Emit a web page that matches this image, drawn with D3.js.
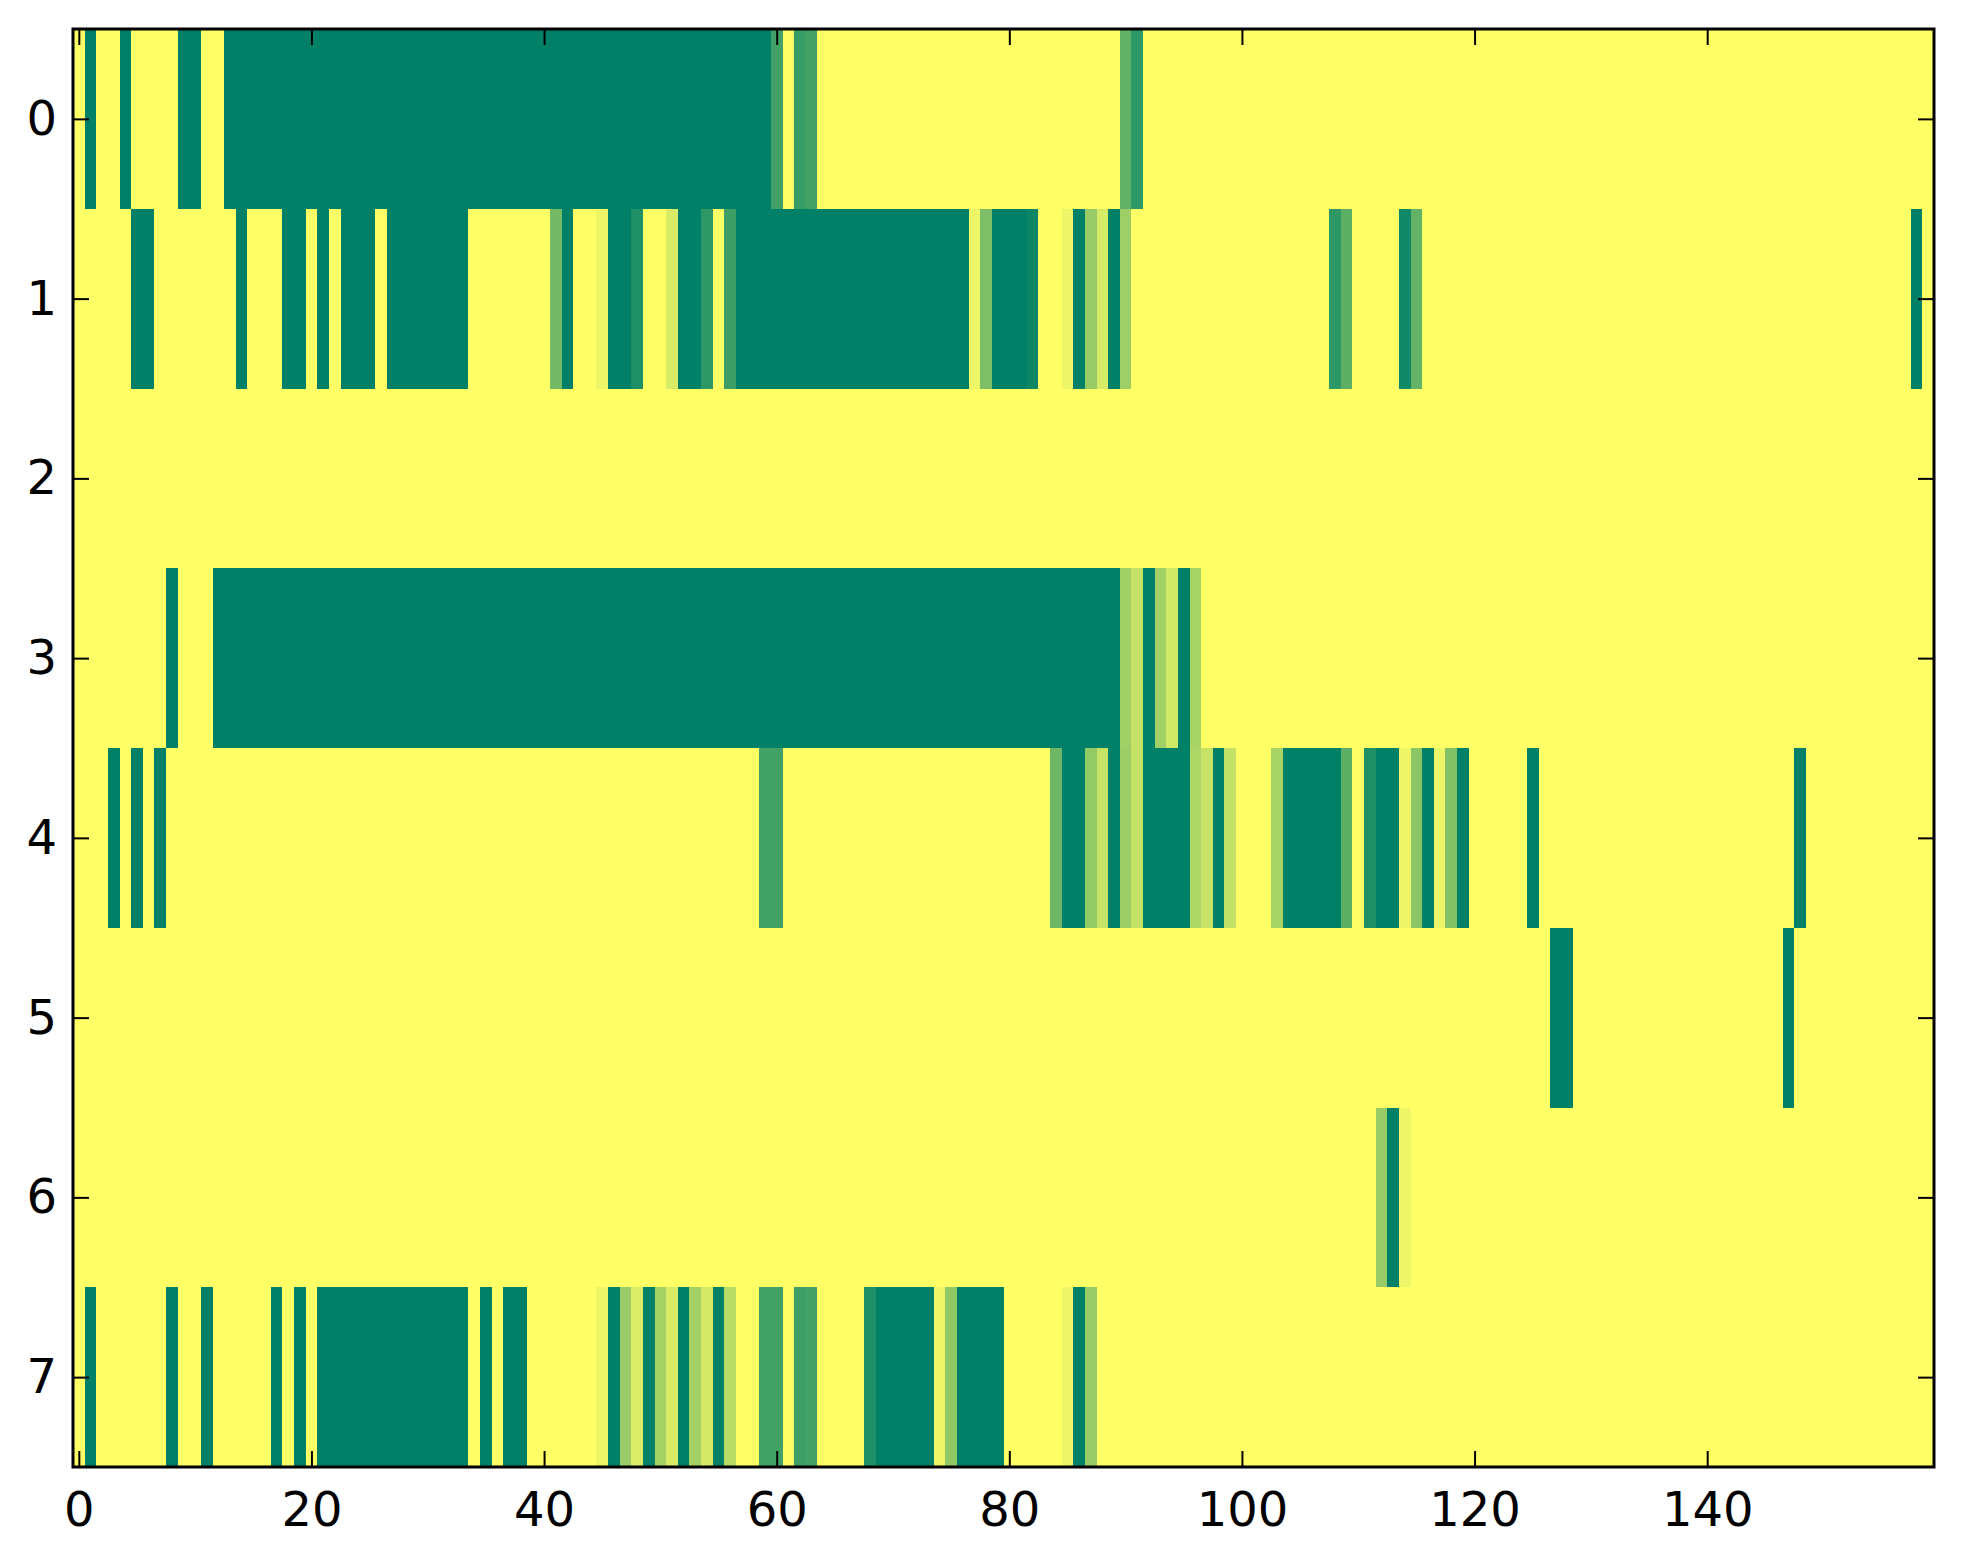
<!DOCTYPE html>
<html lang="en">
<head>
  <meta charset="UTF-8" />
  <title>Heatmap - summer</title>
  <style>
    body {
      margin: 0;
      background-color: #fff;
    }

    svg {
      display: block;
    }

    .axis text {
      font-family: "DejaVu Sans", sans-serif;
      font-size: 48px;
      fill: #000;
    }

    .axis line {
      stroke: #000;
      stroke-width: 2px;
    }
  </style>
</head>
<body>
  <svg></svg>

  <script src="https://cdnjs.cloudflare.com/ajax/libs/d3/7.8.5/d3.min.js"></script>
  <script>
    // one array per row, 160 columns each (0 = green, 1 = yellow)
    const row0 = [
      1,0,1,1,0,1,1,1,1,0, 0,1,1,0,0,0,0,0,0,0,
      0,0,0,0,0,0,0,0,0,0, 0,0,0,0,0,0,0,0,0,0,
      0,0,0,0,0,0,0,0,0,0, 0,0,0,0,0,0,0,0,0,0,
      0.26,1,0.22,0.27,1,1,1,1,1,1, 1,1,1,1,1,1,1,1,1,1,
      1,1,1,1,1,1,1,1,1,1, 0.38,0.18,1,1,1,1,1,1,1,1,
      1,1,1,1,1,1,1,1,1,1, 1,1,1,1,1,1,1,1,1,1,
      1,1,1,1,1,1,1,1,1,1, 1,1,1,1,1,1,1,1,1,1,
      1,1,1,1,1,1,1,1,1,1, 1,1,1,1,1,1,1,1,1,1
    ];
    const row1 = [
      1,1,1,1,1,0,0,1,1,1, 1,1,1,1,0,1,1,1,0,0,
      1,0,1,0,0,0,1,0,0,0, 0,0,0,0,1,1,1,1,1,1,
      1,0.45,0,1,1,0.93,0,0,0.12,1, 1,0.85,0,0,0.18,1,0.24,0,0,0,
      0,0,0,0,0,0,0,0,0,0, 0,0,0,0,0,0,0,0.93,0.49,0,
      0,0,0.05,1,1,0.93,0,0.59,0.84,0, 0.62,1,1,1,1,1,1,1,1,1,
      1,1,1,1,1,1,1,1,0.18,0.37, 1,1,1,1,0.07,0.39,1,1,1,1,
      1,1,1,1,1,1,1,1,1,1, 1,1,1,1,1,1,1,1,1,1,
      1,1,1,1,1,1,1,1,1,1, 1,1,1,1,1,1,1,1,0,1
    ];
    const row2 = [
      1,1,1,1,1,1,1,1,1,1, 1,1,1,1,1,1,1,1,1,1,
      1,1,1,1,1,1,1,1,1,1, 1,1,1,1,1,1,1,1,1,1,
      1,1,1,1,1,1,1,1,1,1, 1,1,1,1,1,1,1,1,1,1,
      1,1,1,1,1,1,1,1,1,1, 1,1,1,1,1,1,1,1,1,1,
      1,1,1,1,1,1,1,1,1,1, 1,1,1,1,1,1,1,1,1,1,
      1,1,1,1,1,1,1,1,1,1, 1,1,1,1,1,1,1,1,1,1,
      1,1,1,1,1,1,1,1,1,1, 1,1,1,1,1,1,1,1,1,1,
      1,1,1,1,1,1,1,1,1,1, 1,1,1,1,1,1,1,1,1,1
    ];
    const row3 = [
      1,1,1,1,1,1,1,1,0,1, 1,1,0,0,0,0,0,0,0,0,
      0,0,0,0,0,0,0,0,0,0, 0,0,0,0,0,0,0,0,0,0,
      0,0,0,0,0,0,0,0,0,0, 0,0,0,0,0,0,0,0,0,0,
      0,0,0,0,0,0,0,0,0,0, 0,0,0,0,0,0,0,0,0,0,
      0,0,0,0,0,0,0,0,0,0, 0.63,0.77,0,0.63,0.82,0,0.66,1,1,1,
      1,1,1,1,1,1,1,1,1,1, 1,1,1,1,1,1,1,1,1,1,
      1,1,1,1,1,1,1,1,1,1, 1,1,1,1,1,1,1,1,1,1,
      1,1,1,1,1,1,1,1,1,1, 1,1,1,1,1,1,1,1,1,1
    ];
    const row4 = [
      1,1,1,0,1,0,1,0,1,1, 1,1,1,1,1,1,1,1,1,1,
      1,1,1,1,1,1,1,1,1,1, 1,1,1,1,1,1,1,1,1,1,
      1,1,1,1,1,1,1,1,1,1, 1,1,1,1,1,1,1,1,1,0.26,
      0.26,1,1,1,1,1,1,1,1,1, 1,1,1,1,1,1,1,1,1,1,
      1,1,1,1,0.43,0,0,0.58,0.78,0, 0.61,0.77,0,0,0,0,0.68,0.78,0,0.76,
      1,1,1,0.66,0,0,0,0,0,0.37, 1,0.12,0,0,0.93,0.55,0,0.93,0.51,0,
      1,1,1,1,1,0,1,1,1,1, 1,1,1,1,1,1,1,1,1,1,
      1,1,1,1,1,1,1,1,0,1, 1,1,1,1,1,1,1,1,1,1
    ];
    const row5 = [
      1,1,1,1,1,1,1,1,1,1, 1,1,1,1,1,1,1,1,1,1,
      1,1,1,1,1,1,1,1,1,1, 1,1,1,1,1,1,1,1,1,1,
      1,1,1,1,1,1,1,1,1,1, 1,1,1,1,1,1,1,1,1,1,
      1,1,1,1,1,1,1,1,1,1, 1,1,1,1,1,1,1,1,1,1,
      1,1,1,1,1,1,1,1,1,1, 1,1,1,1,1,1,1,1,1,1,
      1,1,1,1,1,1,1,1,1,1, 1,1,1,1,1,1,1,1,1,1,
      1,1,1,1,1,1,1,0,0,1, 1,1,1,1,1,1,1,1,1,1,
      1,1,1,1,1,1,1,0,1,1, 1,1,1,1,1,1,1,1,1,1
    ];
    const row6 = [
      1,1,1,1,1,1,1,1,1,1, 1,1,1,1,1,1,1,1,1,1,
      1,1,1,1,1,1,1,1,1,1, 1,1,1,1,1,1,1,1,1,1,
      1,1,1,1,1,1,1,1,1,1, 1,1,1,1,1,1,1,1,1,1,
      1,1,1,1,1,1,1,1,1,1, 1,1,1,1,1,1,1,1,1,1,
      1,1,1,1,1,1,1,1,1,1, 1,1,1,1,1,1,1,1,1,1,
      1,1,1,1,1,1,1,1,1,1, 1,1,0.6,0,0.93,1,1,1,1,1,
      1,1,1,1,1,1,1,1,1,1, 1,1,1,1,1,1,1,1,1,1,
      1,1,1,1,1,1,1,1,1,1, 1,1,1,1,1,1,1,1,1,1
    ];
    const row7 = [
      1,0,1,1,1,1,1,1,0,1, 1,0,1,1,1,1,1,0,1,0,
      1,0,0,0,0,0,0,0,0,0, 0,0,0,0,1,0,1,0,0,1,
      1,1,1,1,1,0.93,0,0.6,0.86,0, 0.65,0.85,0,0.64,0.83,0,0.72,1,1,0.26,
      0.26,1,0.24,0.27,1,1,1,1,0.12,0, 0,0,0,0,0.93,0.57,0,0,0,0,
      1,1,1,1,1,0.93,0,0.6,1,1, 1,1,1,1,1,1,1,1,1,1,
      1,1,1,1,1,1,1,1,1,1, 1,1,1,1,1,1,1,1,1,1,
      1,1,1,1,1,1,1,1,1,1, 1,1,1,1,1,1,1,1,1,1,
      1,1,1,1,1,1,1,1,1,1, 1,1,1,1,1,1,1,1,1,1
    ];

    const rows = [row0, row1, row2, row3, row4, row5, row6, row7];
    const xTicks = [0, 20, 40, 60, 80, 100, 120, 140];
    const yTicks = [0, 1, 2, 3, 4, 5, 6, 7];

    const width = 1963;
    const height = 1564;
    const plotLeft = 73, plotRight = 1934, plotTop = 29, plotBottom = 1467;
    const nCols = 160;

    const svg = d3.select("svg")
      .attr("width", width)
      .attr("height", height);

    const x = d3.scaleLinear().domain([-0.5, nCols - 0.5]).range([plotLeft, plotRight]);
    const y = d3.scaleLinear().domain([-0.5, rows.length - 0.5]).range([plotTop, plotBottom]);

    // matplotlib "summer" colormap
    const color = d3.scaleLinear()
      .domain([0, 1])
      .range(["#008066", "#ffff66"])
      .interpolate(d3.interpolateRgb);

    const cells = [];
    rows.forEach((row, r) => row.forEach((v, c) => cells.push({ r, c, v })));

    svg.append("g")
      .selectAll("rect")
      .data(cells)
      .join("rect")
      .attr("x", d => x(d.c - 0.5))
      .attr("y", d => y(d.r - 0.5))
      .attr("width", d => x(d.c + 0.5) - x(d.c - 0.5) + 0.5)
      .attr("height", d => y(d.r + 0.5) - y(d.r - 0.5) + 0.5)
      .attr("fill", d => color(d.v))
      .attr("shape-rendering", "crispEdges");

    // ticks point inward on all four sides
    const tickLen = 16;

    svg.append("g")
      .attr("class", "axis")
      .attr("transform", `translate(0,${plotBottom})`)
      .call(d3.axisBottom(x).tickValues(xTicks).tickSizeInner(-tickLen).tickSizeOuter(0).tickPadding(25));

    svg.append("g")
      .attr("class", "axis")
      .attr("transform", `translate(0,${plotTop})`)
      .call(d3.axisTop(x).tickValues(xTicks).tickSizeInner(-tickLen).tickSizeOuter(0).tickFormat(""));

    svg.append("g")
      .attr("class", "axis")
      .attr("transform", `translate(${plotLeft},0)`)
      .call(d3.axisLeft(y).tickValues(yTicks).tickSizeInner(-tickLen).tickSizeOuter(0).tickPadding(16));

    svg.append("g")
      .attr("class", "axis")
      .attr("transform", `translate(${plotRight},0)`)
      .call(d3.axisRight(y).tickValues(yTicks).tickSizeInner(-tickLen).tickSizeOuter(0).tickFormat(""));

    svg.selectAll(".axis .domain").remove();

    // frame
    svg.append("rect")
      .attr("x", plotLeft)
      .attr("y", plotTop)
      .attr("width", plotRight - plotLeft)
      .attr("height", plotBottom - plotTop)
      .attr("fill", "none")
      .attr("stroke", "#000")
      .attr("stroke-width", 3);
  </script>
</body>
</html>
